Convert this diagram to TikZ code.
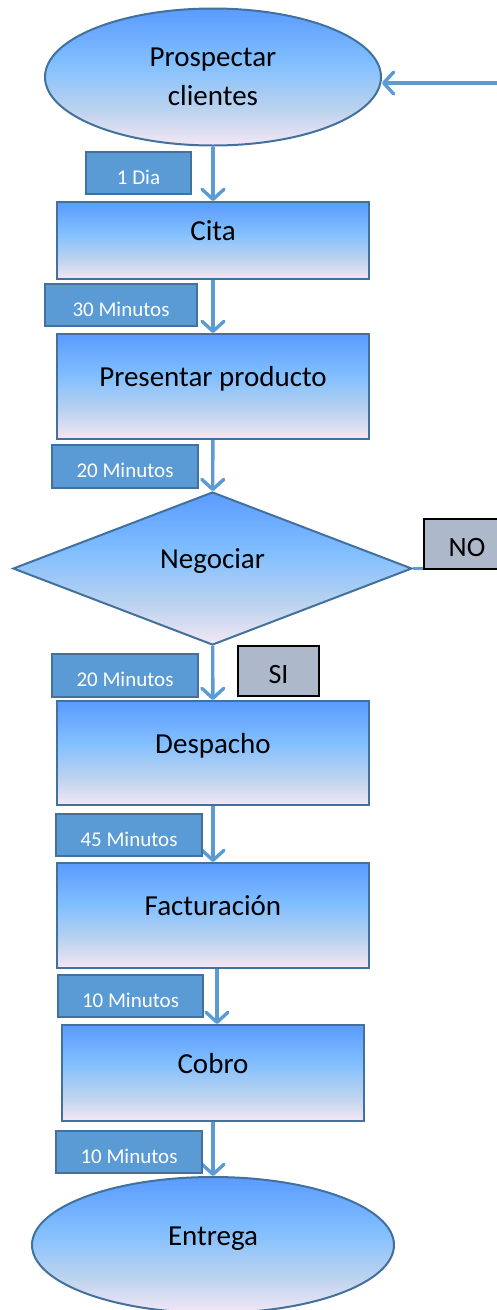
\documentclass[tikz,border=0pt]{standalone}
\usepackage{fontspec}
\setmainfont{Carlito}
\usetikzlibrary{shapes.geometric,arrows.meta}

\definecolor{edgeblue}{HTML}{41719C}
\definecolor{tagblue}{HTML}{5B9BD5}
\definecolor{flowblue}{HTML}{5B9BD5}
\definecolor{choicegray}{HTML}{ADB9CA}
\definecolor{fadetop}{HTML}{5A9BFF}
\definecolor{fadesky}{HTML}{82BFFF}
\definecolor{fadegray}{HTML}{BCD3EE}
\definecolor{fadepink}{HTML}{F4E7F5}

% blue-to-pink fill of the process shapes (path spans 25bp..75bp)
\pgfdeclareverticalshading{stepfade}{100bp}{color(0bp)=(fadepink); color(25bp)=(fadepink); color(38bp)=(fadegray); color(55bp)=(fadesky); color(75bp)=(fadetop); color(100bp)=(fadetop)}

\tikzset{
  shapebase/.style={draw=edgeblue, line width=2pt, shade, shading=stepfade,
    font=\fontsize{29}{39}\selectfont, inner sep=0pt, align=center},
  oneline/.style={text height=14pt, text depth=14pt},
  stepbox/.style={shapebase, oneline, rectangle},
  oval/.style={shapebase, ellipse},
  choice/.style={shapebase, oneline, diamond},
  tag/.style={rectangle, draw=edgeblue, fill=tagblue, line width=2pt, text=white,
    font=\fontsize{21}{25}\selectfont, inner sep=0pt, text height=22pt, text depth=0pt,
    minimum height=42pt},
  answer/.style={rectangle, draw=black, fill=choicegray, line width=1.2pt,
    font=\fontsize{28}{32}\selectfont, inner sep=0pt, text height=25pt, text depth=0pt,
    minimum height=50pt},
  flow/.style={draw=flowblue, line width=3.4pt, -{Straight Barb[length=10pt,width=22pt,round]}},
  link/.style={draw=flowblue, line width=3pt}
}

\begin{document}
\begin{tikzpicture}[x=1pt, y=-1pt]
\useasboundingbox (0,0) rectangle (497,1310);

% process shapes
\node[oval, minimum width=336pt, minimum height=137pt] (pros) at (213,77) {Prospectar\\clientes};
\node[stepbox, minimum width=312pt, minimum height=77pt] (cita) at (213,240.5) {Cita};
\node[stepbox, minimum width=312pt, minimum height=105pt] (pres) at (213,386.5) {Presentar producto};
\node[choice, minimum width=399pt, minimum height=153pt] (neg) at (212.5,568.5) {Negociar};
\node[stepbox, minimum width=312pt, minimum height=104pt] (desp) at (213,753) {Despacho};
\node[stepbox, minimum width=312pt, minimum height=105pt] (fact) at (213,915.5) {Facturación};
\node[stepbox, minimum width=302pt, minimum height=96pt] (cobro) at (213,1073) {Cobro};
\node[oval, oneline, minimum width=362pt, minimum height=136pt] (entr) at (213,1245) {Entrega};

% loose ends leaving the sheet on the right
\coordinate (back) at (500,83);
\coordinate (noend) at (500,568.5);

% connectors
\draw[flow] (back) -- (back -| pros.east);
\draw[flow] (pros) -- (cita);
\draw[flow] (cita) -- (pres);
\draw[flow] (pres) -- (neg);
\draw[flow] (neg) -- (desp);
\draw[flow] (desp) -- (fact);
\draw[flow] ([xshift=4pt]fact.south) -- ([xshift=4pt]cobro.north);
\draw[flow] (cobro) -- (entr);
\draw[link] (neg.east) -- (noend);

% time tags
\node[tag, minimum width=105pt] (t1) at (138.5,173) {1 Dia};
\node[tag, minimum width=152pt] (t2) at (121,305) {30 Minutos};
\node[tag, minimum width=146pt, minimum height=43pt] (t3) at (125,466.5) {20 Minutos};
\node[tag, minimum width=146pt, minimum height=43pt] (t4) at (125,675.5) {20 Minutos};
\node[tag, minimum width=146pt] (t5) at (129,835) {45 Minutos};
\node[tag, minimum width=145pt] (t6) at (130.5,996) {10 Minutos};
\node[tag, minimum width=146pt] (t7) at (129,1152) {10 Minutos};

% decision answers
\node[answer, minimum width=81pt] (si) at (278.5,671) {SI};
\node[answer, minimum width=86pt] (no) at (467,544) {NO};
\end{tikzpicture}
\end{document}
